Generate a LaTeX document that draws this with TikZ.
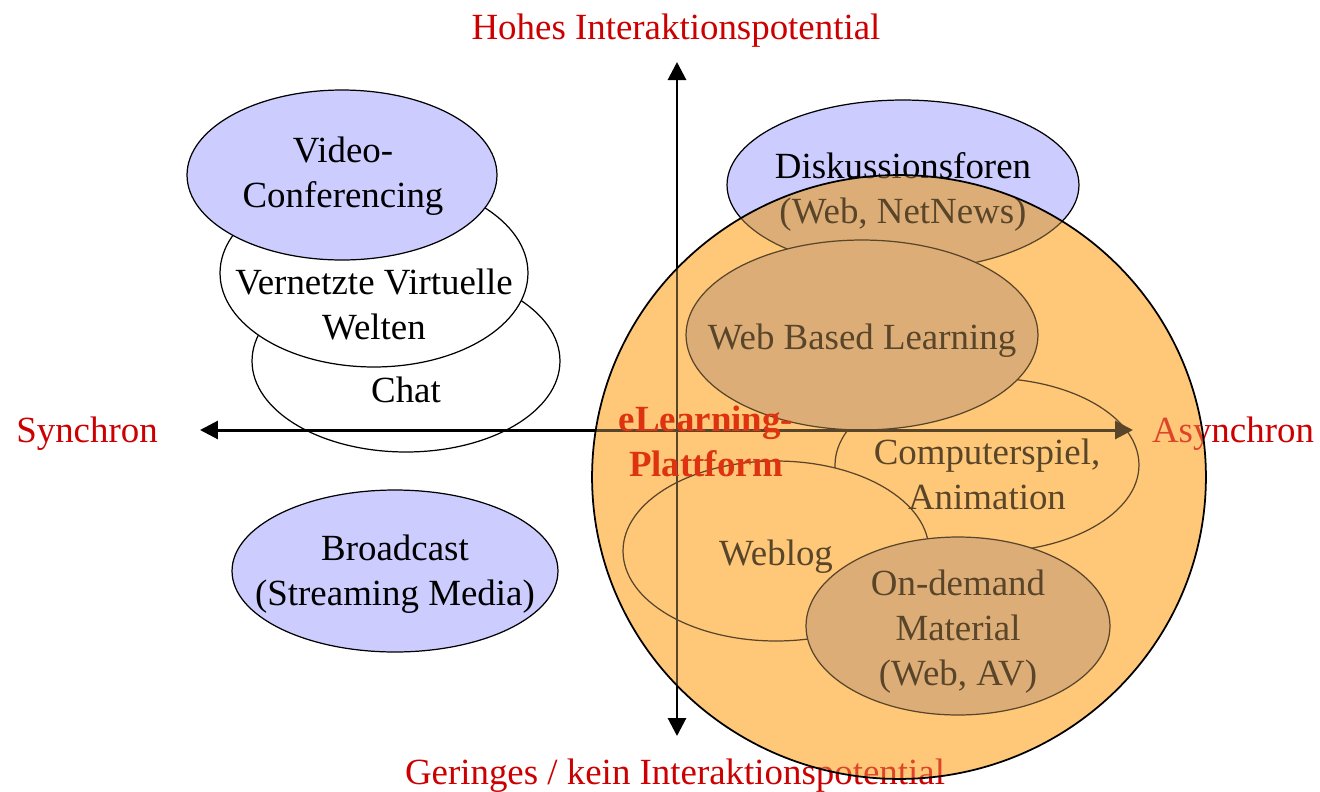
\documentclass[tikz,border=0pt]{standalone}
\usepackage{fontspec}
\setmainfont{Liberation Serif}
\usetikzlibrary{shapes.geometric,arrows.meta}
\definecolor{blueF}{RGB}{204,204,255}
\definecolor{axred}{RGB}{204,0,0}
\definecolor{plred}{RGB}{221,51,17}
\definecolor{orM}{RGB}{255,200,120}
\newcommand{\fsz}{\fontsize{21}{25.6}\selectfont}
\tikzset{
  ell/.style={ellipse, draw=black, line width=0.7pt, inner sep=0pt, fill=white},
  bell/.style={ell, fill=blueF},
  txt/.style={font=\fsz, align=center, inner sep=0pt, yshift=-0.08cm},
  axlab/.style={font=\fsz, text=axred, inner sep=0pt, yshift=-0.08cm},
  axisline/.style={line width=1.7pt, {Triangle[length=0.36cm,width=0.36cm]}-{Triangle[length=0.36cm,width=0.36cm]}},
  bigc/.style={ellipse, inner sep=0pt, minimum width=12.28cm, minimum height=12.08cm}
}
\begin{document}
\begin{tikzpicture}[x=0.02cm, y=-0.02cm]
\useasboundingbox (0,0) rectangle (1320,792);
% left ellipses
\node[ell, minimum width=6.16cm, minimum height=3.64cm] (chat) at (406,361) {};
\node[ell, minimum width=6.16cm, minimum height=3.76cm] (vern) at (374,273) {};
\node[bell, minimum width=6.2cm, minimum height=3.4cm] (video) at (342,175) {};
\node[bell, minimum width=6.52cm, minimum height=3.24cm] (broad) at (395,571) {};
\node[txt] (chatT) at (406,386) {Chat};
\node[txt] (vernT) at (374,300) {Vernetzte Virtuelle\\Welten};
\node[txt] (videoT) at (343,172) {Video-\\Conferencing};
\node[txt] (broadT) at (395,570) {Broadcast\\(Streaming Media)};
% right ellipses
\node[bell, minimum width=7.04cm, minimum height=3.4cm] (disk) at (903,185) {};
\node[ell, minimum width=6.08cm, minimum height=3.48cm] (comp) at (987,465) {};
\node[bell, minimum width=7.04cm, minimum height=3.8cm] (wbl) at (862,335) {};
\node[ell, minimum width=6.12cm, minimum height=3.6cm] (weblog) at (776,551) {};
\node[bell, minimum width=6.08cm, minimum height=3.56cm] (ond) at (958,626) {};
\node[txt] (diskT) at (903,188) {Diskussionsforen\\(Web, NetNews)};
\node[txt] (wblT) at (862,337) {Web Based Learning};
\node[txt] (compT) at (987,470) {Computerspiel,\\Animation};
\node[txt] (weblogT) at (776,553) {Weblog};
\node[txt] (ondT) at (958,628) {On-demand\\Material\\(Web, AV)};
% axes
\coordinate (vt) at (677,62);
\coordinate (vb) at (677,736);
\coordinate (hl) at (200,430);
\coordinate (hr) at (1133,430);
\draw[axisline] (vt) -- (vb);
\draw[axisline] (hl) -- (hr);
% axis labels
\node[axlab] (hoch) at (676,27) {Hohes Interaktionspotential};
\node[axlab] (tief) at (675,772) {Geringes / kein Interaktionspotential};
\node[axlab] (syn) at (87,430) {Synchron};
\node[axlab] (asyn) at (1233,430) {Asynchron};
% platform circle
\begin{scope}[blend mode=multiply]
\node[bigc, fill=orM] (plat) at (899,477) {};
\end{scope}
\node[bigc, fill=orM, fill opacity=0.35, draw=black, line width=1pt] (platB) at (899,477) {};
\node[font=\fsz\bfseries, text=plred, align=center, inner sep=0pt, yshift=-0.08cm] (platT) at (706,437) {eLearning-\\Plattform};
\end{tikzpicture}
\end{document}
